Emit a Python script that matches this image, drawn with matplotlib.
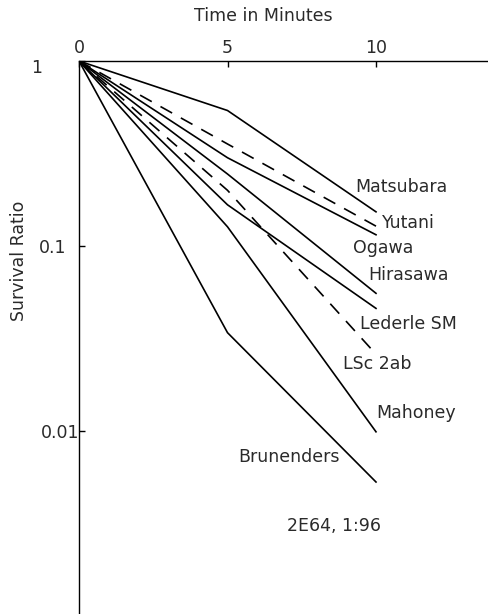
import numpy as np
import matplotlib
matplotlib.use("Agg")
import matplotlib.pyplot as plt
import matplotlib.transforms as mtransforms

# Data (time in minutes, survival ratio)
times = [0, 5, 10]
strains = ["Matsubara", "Yutani", "Ogawa", "Hirasawa", "Lederle SM", "LSc 2ab", "Mahoney", "Brunenders"]
matsubara = [1.0, 0.54, 0.153]
yutani = [1.0, 0.356, 0.128]
ogawa = [1.0, 0.30, 0.115]
hirasawa = [1.0, 0.245, 0.0555]
lederle_sm = [1.0, 0.167, 0.046]
lsc_2ab = [1.0, 0.20, 0.026]
mahoney = [1.0, 0.127, 0.0099]
brunenders = [1.0, 0.034, 0.0053]
series = [matsubara, yutani, ogawa, hirasawa, lederle_sm, lsc_2ab, mahoney, brunenders]
dashed = [False, True, False, False, False, True, False, False]

# label anchor positions (data coords)
label_x = [9.29, 10.20, 9.23, 9.75, 9.46, 8.89, 10.02, 5.35]
label_y = [0.208, 0.133, 0.0976, 0.070, 0.0378, 0.0230, 0.0125, 0.0072]

xticks = [0, 5, 10]
yticks = [1, 0.1, 0.01]
ytick_labels = ["1", "0.1", "0.01"]

plt.rcParams['font.family'] = ['DejaVu Sans']
FS = 12.5
TC = '#2a2a2a'

fig = plt.figure(figsize=(4.88, 6.14), dpi=100)
W, H = 488, 614
x0, x1 = 79, 488
ytop, ybot = 61, 616
ax = fig.add_axes([x0 / W, 1 - ybot / H, (x1 - x0) / W, (ybot - ytop) / H])
ax.set_yscale('log')
ax.set_xlim(0, (x1 - x0) / 29.7)
ax.set_ylim(0.001, 1)

for vals, d in zip(series, dashed):
    if d:
        ax.plot(times, vals, color='black', lw=1.2, dashes=(8, 6), solid_capstyle='butt')
    else:
        ax.plot(times, vals, color='black', lw=1.2)

for name, lx, ly in zip(strains, label_x, label_y):
    ax.text(lx, ly, name, ha='left', va='center', fontsize=FS, color=TC)

ax.text(7.0, 0.00305, "2E64, 1:96", ha='left', va='center', fontsize=FS, color=TC)

ax.spines['bottom'].set_visible(False)
ax.spines['right'].set_visible(False)
ax.spines['top'].set_linewidth(1.0)
ax.spines['left'].set_linewidth(1.0)

ax.xaxis.set_ticks_position('top')
ax.xaxis.set_label_position('top')
ax.set_xticks(xticks)
ax.set_xticklabels([str(t) for t in xticks], fontsize=FS, color=TC)
ax.tick_params(axis='x', direction='in', length=4, width=1, pad=3)
ax.set_xlabel("Time in Minutes", fontsize=FS, color=TC)
ax.xaxis.set_label_coords(0.45, 1.072)

ax.set_yticks(yticks)
ax.set_yticklabels(ytick_labels, fontsize=FS, color=TC)
ax.yaxis.set_minor_locator(matplotlib.ticker.NullLocator())
ax.tick_params(axis='y', direction='in', length=4, width=1, pad=2)
offsets = [-34, -10, 3]
offsets_y = [-5, 0, 0]
for lab, dx, dy in zip(ax.get_yticklabels(), offsets, offsets_y):
    lab.set_transform(lab.get_transform() + mtransforms.ScaledTranslation(dx / 100, dy / 100, fig.dpi_scale_trans))
ax.set_ylabel("Survival Ratio", fontsize=FS, color=TC)
ax.yaxis.set_label_coords(-0.125, 0.64)

fig.savefig("out.png", dpi=100)
